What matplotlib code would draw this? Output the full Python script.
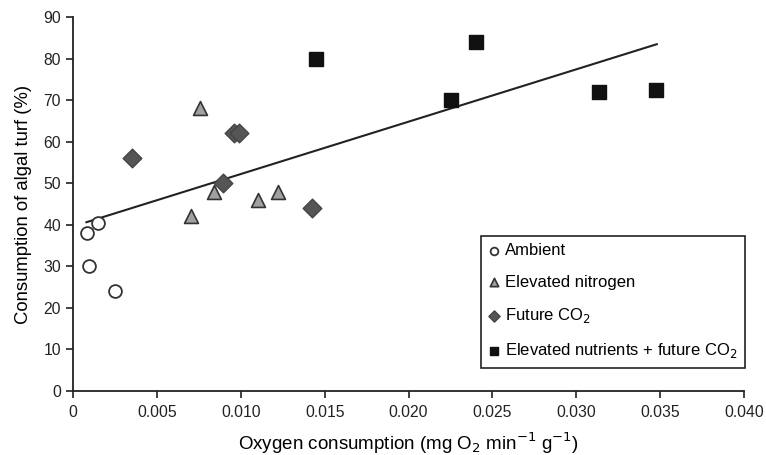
import numpy as np
import matplotlib.pyplot as plt

plt.rcParams['font.family'] = ['Liberation Sans', 'DejaVu Sans']

ambient_x = [0.00083, 0.00149, 0.00095, 0.0025]
ambient_y = [38.0, 40.5, 30.0, 24.0]

nitrogen_x = [0.00757, 0.00702, 0.00842, 0.01105, 0.01224]
nitrogen_y = [68.0, 42.0, 48.0, 46.0, 48.0]

co2_x = [0.0035, 0.0096, 0.0099, 0.00896, 0.01427]
co2_y = [56.0, 62.0, 62.0, 50.0, 44.0]

both_x = [0.01449, 0.02253, 0.02402, 0.03136, 0.03475]
both_y = [80.0, 70.0, 84.0, 72.0, 72.5]

# trend line
fit_x = [0.0008, 0.0348]
fit_slope, fit_intercept = 1260.0, 39.6

fig = plt.figure(figsize=(7.66, 4.55), dpi=100)
ax = fig.add_axes([0.0953, 0.1407, 0.876, 0.822])

ax.scatter(ambient_x, ambient_y, s=85, marker='o', facecolor='white',
           edgecolor='#333333', linewidth=1.3, label='Ambient', zorder=3)
ax.scatter(nitrogen_x, nitrogen_y, s=100, marker='^', facecolor='#a0a0a0',
           edgecolor='#333333', linewidth=1.2, label='Elevated nitrogen', zorder=3)
ax.scatter(co2_x, co2_y, s=90, marker='D', facecolor='#555555',
           edgecolor='#444444', linewidth=1.0, label='Future CO$_2$', zorder=3)
ax.scatter(both_x, both_y, s=100, marker='s', facecolor='#111111',
           edgecolor='#111111', linewidth=1.0,
           label='Elevated nutrients + future CO$_2$', zorder=3)

xs = np.array(fit_x)
ax.plot(xs, fit_intercept + fit_slope * xs, color='#222222', lw=1.5, zorder=2)

ax.set_xlim(0, 0.040)
ax.set_ylim(0, 90)
ax.set_xticks(np.arange(0, 0.0401, 0.005))
ax.set_xticklabels(['0', '0.005', '0.010', '0.015', '0.020', '0.025',
                    '0.030', '0.035', '0.040'])
ax.set_yticks(range(0, 91, 10))

ax.spines['top'].set_visible(False)
ax.spines['right'].set_visible(False)
for s in ('left', 'bottom'):
    ax.spines[s].set_linewidth(1.3)
    ax.spines[s].set_color('#222222')
ax.tick_params(direction='out', length=5, width=1.2, labelsize=11.3, colors='#222222')
ax.tick_params(axis='x', pad=5)

ax.set_xlabel('Oxygen consumption (mg O$_2$ min$^{-1}$ g$^{-1}$)', fontsize=13.5, labelpad=8)
ax.set_ylabel('Consumption of algal turf (%)', fontsize=13.3, labelpad=8)

leg = ax.legend(loc='lower right', bbox_to_anchor=(1.002, 0.062), fontsize=12,
                markerscale=0.6, handletextpad=0.4, labelspacing=0.98,
                fancybox=False, framealpha=1, edgecolor='#222222',
                borderpad=0.45, handlelength=0.6, borderaxespad=0)
leg.get_frame().set_linewidth(1.2)

fig.savefig('out.png', dpi=100)
